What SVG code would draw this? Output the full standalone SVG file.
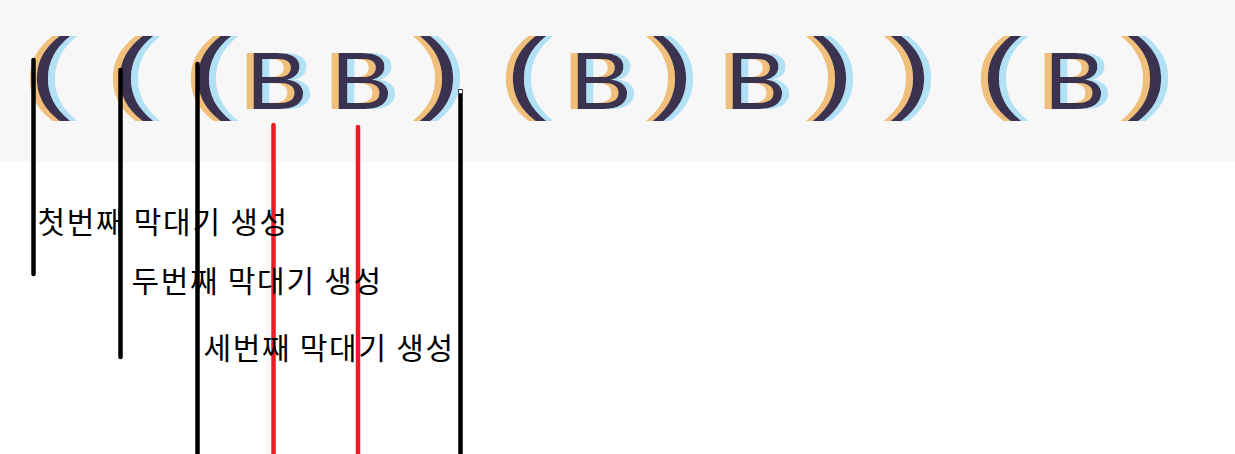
<svg xmlns="http://www.w3.org/2000/svg" width="1235" height="454" viewBox="0 0 1235 454">
  <style>
    .g { font-family: "Liberation Sans", Arial, sans-serif; fill: #3b3050; text-anchor: middle; filter: url(#fringe); }
    .p { font-size: 90px; }
    .b { font-size: 82px; }
    .lbl { font-family: "Noto Sans CJK KR", "Noto Sans", sans-serif; font-size: 30px; letter-spacing: 1.7px; fill: #000; }
    .blk { stroke: #000; stroke-width: 4.5; stroke-linecap: round; fill: none; }
    .red { stroke: #ed1c24; stroke-width: 4.5; stroke-linecap: round; fill: none; }
  </style>
  <defs>
    <filter id="fringe" x="-50%" y="-20%" width="200%" height="140%">
      <feOffset in="SourceAlpha" dx="-7" dy="0" result="l"/>
      <feFlood flood-color="#f0bf7c" result="lcol"/>
      <feComposite in="lcol" in2="l" operator="in" result="lc"/>
      <feOffset in="SourceAlpha" dx="7" dy="0" result="r"/>
      <feFlood flood-color="#b2e0f5" result="rcol"/>
      <feComposite in="rcol" in2="r" operator="in" result="rc"/>
      <feMerge>
        <feMergeNode in="lc"/>
        <feMergeNode in="rc"/>
        <feMergeNode in="SourceGraphic"/>
      </feMerge>
    </filter>
  </defs>

  <rect id="band" x="0" y="0" width="1235" height="162" fill="#f7f7f7"/>
  <rect id="page" x="0" y="162" width="1235" height="292" fill="#ffffff"/>

  <g id="sequence">
    <text class="g p" x="50" y="102" textLength="42" lengthAdjust="spacingAndGlyphs">(</text>
    <text class="g p" x="133" y="102" textLength="42" lengthAdjust="spacingAndGlyphs">(</text>
    <text class="g p" x="211" y="102" textLength="42" lengthAdjust="spacingAndGlyphs">(</text>
    <text class="g b" x="277" y="109" textLength="62" lengthAdjust="spacingAndGlyphs">B</text>
    <text class="g b" x="362" y="109" textLength="62" lengthAdjust="spacingAndGlyphs">B</text>
    <text class="g p" x="440" y="102" textLength="42" lengthAdjust="spacingAndGlyphs">)</text>
    <text class="g p" x="526" y="102" textLength="42" lengthAdjust="spacingAndGlyphs">(</text>
    <text class="g b" x="601" y="109" textLength="62" lengthAdjust="spacingAndGlyphs">B</text>
    <text class="g p" x="673" y="102" textLength="42" lengthAdjust="spacingAndGlyphs">)</text>
    <text class="g b" x="756" y="109" textLength="62" lengthAdjust="spacingAndGlyphs">B</text>
    <text class="g p" x="833" y="102" textLength="42" lengthAdjust="spacingAndGlyphs">)</text>
    <text class="g p" x="911" y="102" textLength="42" lengthAdjust="spacingAndGlyphs">)</text>
    <text class="g p" x="1001" y="102" textLength="42" lengthAdjust="spacingAndGlyphs">(</text>
    <text class="g b" x="1075" y="109" textLength="62" lengthAdjust="spacingAndGlyphs">B</text>
    <text class="g p" x="1148" y="102" textLength="42" lengthAdjust="spacingAndGlyphs">)</text>
  </g>

  <g id="connectors">
    <line class="blk" x1="33.5" y1="60" x2="33.5" y2="274"/>
    <line class="blk" x1="120.5" y1="70" x2="120.5" y2="357"/>
    <line class="blk" x1="197.5" y1="64" x2="197.5" y2="460"/>
    <line class="red" x1="273.5" y1="125" x2="273.5" y2="460"/>
    <line class="red" x1="358" y1="127" x2="358" y2="460"/>
    <line class="blk" x1="460.5" y1="94" x2="460.5" y2="460" stroke-linecap="butt"/>
    <rect x="458.5" y="89.5" width="4" height="4" fill="#ffffff" stroke="#444444" stroke-width="1"/>
  </g>

  <g id="label1"><text class="lbl" x="37.5" y="233">첫번째 막대기 생성</text></g>
  <g id="label2"><text class="lbl" x="131.5" y="292">두번째 막대기 생성</text></g>
  <g id="label3"><text class="lbl" x="203.5" y="359">세번째 막대기 생성</text></g>
</svg>
